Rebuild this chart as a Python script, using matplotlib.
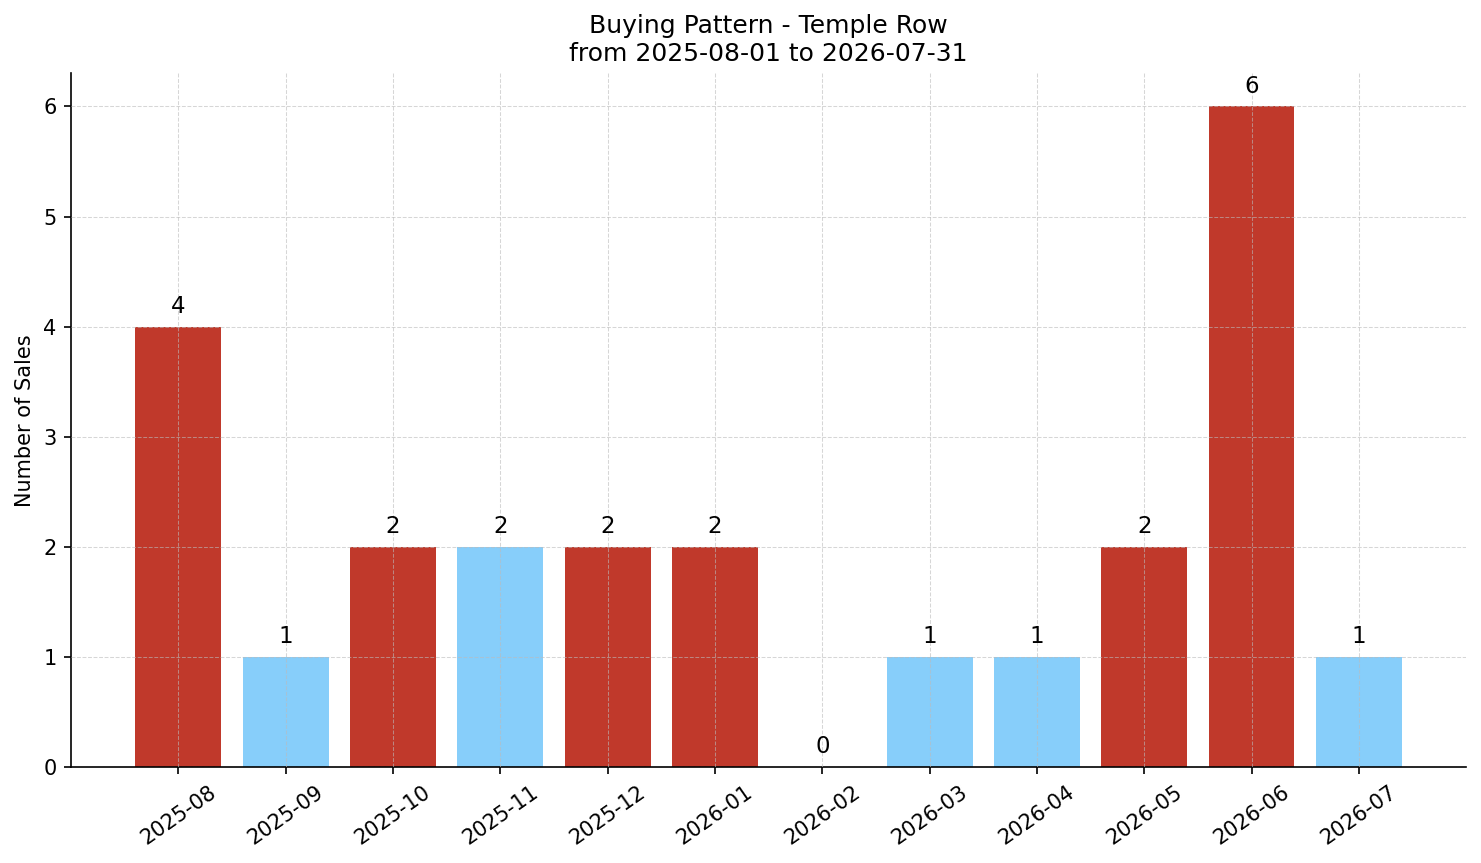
import matplotlib

matplotlib.use("Agg")
import matplotlib.pyplot as plt

months = ["2025-08", "2025-09", "2025-10", "2025-11", "2025-12", "2026-01",
          "2026-02", "2026-03", "2026-04", "2026-05", "2026-06", "2026-07"]
sales = [4, 1, 2, 2, 2, 2, 0, 1, 1, 2, 6, 1]
highlight = [True, False, True, False, True, True, False, False, False, True, True, False]

RED = "#c0392b"
BLUE = "#87cefa"

fig, ax = plt.subplots(figsize=(1481 / 150, 863 / 150), dpi=150)

x = list(range(len(months)))
colors = [RED if h else BLUE for h in highlight]
bars = ax.bar(x, sales, width=0.8, color=colors, zorder=2)

# value labels above each bar
for b, v in zip(bars, sales):
    ax.text(b.get_x() + b.get_width() / 2, v + 0.08, str(v),
            ha="center", va="bottom", fontsize=11)

ax.set_xticks(x)
ax.set_xticklabels(months, rotation=35, ha="center")
ax.set_xlim(-1, 12)
ax.set_ylim(0, 6.3)
ax.set_ylabel("Number of Sales")
ax.set_title("Buying Pattern - Temple Row\nfrom 2025-08-01 to 2026-07-31", fontsize=12)

ax.grid(True, linestyle="--", color="#bbbbbb", alpha=0.6, linewidth=0.5, zorder=3)
ax.set_axisbelow(False)
ax.spines["top"].set_visible(False)
ax.spines["right"].set_visible(False)

fig.subplots_adjust(left=0.048, right=0.99, top=0.915, bottom=0.111)
fig.savefig("out.png", dpi=150)
plt.close(fig)
